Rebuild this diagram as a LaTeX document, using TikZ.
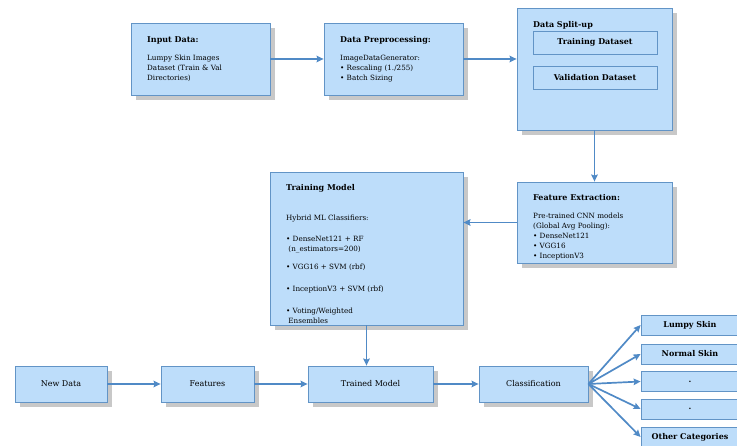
\documentclass[tikz,border=0pt]{standalone}
\usepackage{fontspec}
\setmainfont{DejaVu Serif}
\usetikzlibrary{shadows,arrows.meta}
\definecolor{boxfill}{RGB}{189,221,250}
\definecolor{boxline}{RGB}{98,148,198}
\definecolor{flowline}{RGB}{80,138,198}
\definecolor{shade}{RGB}{200,200,200}
\newcommand{\boxfont}{\fontsize{7.2}{10}\selectfont}
\newcommand{\headfont}{\fontsize{8}{10}\selectfont}

\begin{document}
\begin{tikzpicture}[x=1pt,y=-1pt,
  box/.style={draw=boxline,line width=0.8pt,fill=boxfill,inner sep=0pt,font=\headfont,
    drop shadow={shadow xshift=5pt,shadow yshift=-5pt,fill=shade,opacity=1}},
  subbox/.style={draw=boxline,line width=0.8pt,fill=boxfill,inner sep=0pt,font=\headfont\bfseries},
  title/.style={anchor=west,inner sep=0pt,font=\headfont\bfseries},
  body/.style={anchor=north west,inner sep=0pt,align=left,font=\boxfont},
  flow/.style={draw=flowline,line width=1.7pt,-{Stealth[length=7pt,width=6.5pt,inset=1pt]}}]
  \clip (0,0) rectangle (737,446);
  % top row
  \node[box,minimum width=139pt,minimum height=72pt] (input) at (200.5,59) {};
  \node[title] (input-title) at (147,40) {Input Data:};
  \node[body] (input-text) at (147,54.5) {Lumpy Skin Images\\Dataset (Train \& Val\\Directories)};
  \node[box,minimum width=139pt,minimum height=72pt] (prep) at (393.5,59) {};
  \node[title] (prep-title) at (340,40) {Data Preprocessing:};
  \node[body] (prep-text) at (340,54.5) {ImageDataGenerator:\\\textbullet\ Rescaling (1./255)\\\textbullet\ Batch Sizing};
  \node[box,minimum width=155pt,minimum height=122pt] (split) at (594.5,69) {};
  \node[title] (split-title) at (533,25) {Data Split-up};
  \node[subbox,minimum width=124pt,minimum height=23pt] (trainset) at (595,42.5) {Training Dataset};
  \node[subbox,minimum width=124pt,minimum height=23pt] (valset) at (595,77.5) {Validation Dataset};
  % middle row
  \node[box,minimum width=155pt,minimum height=81pt] (feat) at (594.5,222.5) {};
  \node[title] (feat-title) at (533,198) {Feature Extraction:};
  \node[body] (feat-text) at (533,213) {Pre-trained CNN models\\(Global Avg Pooling):\\\textbullet\ DenseNet121\\\textbullet\ VGG16\\\textbullet\ InceptionV3};
  \node[box,minimum width=193pt,minimum height=153pt] (model) at (366.5,248.5) {};
  \node[title] (model-title) at (286,188) {Training Model};
  \node[body] (model-text) at (286,215) {Hybrid ML Classifiers:\\[11pt]
    \textbullet\ DenseNet121 + RF\\\ (n\_estimators=200)\\[8pt]
    \textbullet\ VGG16 + SVM (rbf)\\[12pt]
    \textbullet\ InceptionV3 + SVM (rbf)\\[12pt]
    \textbullet\ Voting/Weighted\\\ Ensembles};
  % bottom row
  \node[box,minimum width=92pt,minimum height=36pt] (newdata) at (61,384) {New Data};
  \node[box,minimum width=93pt,minimum height=36pt] (features) at (207.5,384) {Features};
  \node[box,minimum width=125pt,minimum height=36pt] (trained) at (370.5,384) {Trained Model};
  \node[box,minimum width=109pt,minimum height=36pt] (classif) at (533.5,384) {Classification};
  % outputs
  \node[subbox,minimum width=98pt,minimum height=20pt] (out1) at (690,325) {Lumpy Skin};
  \node[subbox,minimum width=98pt,minimum height=20pt] (out2) at (690,354) {Normal Skin};
  \node[subbox,minimum width=98pt,minimum height=20pt] (out3) at (690,381.5) {.};
  \node[subbox,minimum width=98pt,minimum height=20pt] (out4) at (690,409) {.};
  \node[subbox,minimum width=98pt,minimum height=20pt] (out5) at (690,437) {Other Categories};
  % connectors
  \draw[flow] (input.east) -- (prep.west);
  \draw[flow] (prep.east) -- (prep.east -| split.west);
  \draw[flow] (split.south) -- (feat.north);
  \draw[flow] (feat.west) -- (feat.west -| model.east);
  \draw[flow] (model.south) -- (model.south |- trained.north);
  \draw[flow] (newdata) -- (features);
  \draw[flow] (features) -- (trained);
  \draw[flow] (trained) -- (classif);
  \foreach \k in {1,...,5}
    \draw[flow] (classif.east) -- (out\k.west);
\end{tikzpicture}
\end{document}
